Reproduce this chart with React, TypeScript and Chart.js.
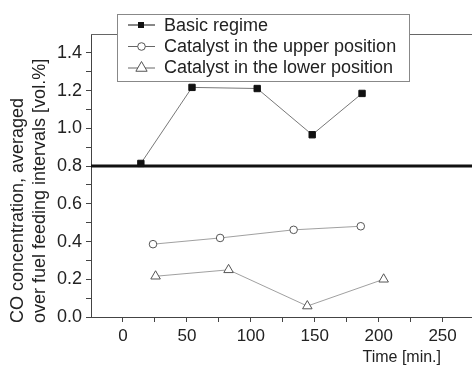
import React, { useEffect, useRef } from 'react';
import { Chart, registerables } from 'chart.js';
Chart.register(...registerables);

const seriesNames = ['Basic regime', 'Catalyst in the upper position', 'Catalyst in the lower position'];
const basicTime = [14, 54, 105, 148, 187];
const basicCO = [0.814, 1.217, 1.211, 0.966, 1.185];
const upperTime = [23.5, 76, 133.5, 186];
const upperCO = [0.386, 0.419, 0.462, 0.481];
const lowerTime = [25.5, 82.6, 144.2, 203.9];
const lowerCO = [0.216, 0.25, 0.058, 0.2];
const referenceLevel = 0.8;
const xTicks = [0, 25, 50, 75, 100, 125, 150, 175, 200, 225, 250];
const xLabelTicks = [0, 50, 100, 150, 200, 250];
const yTicks = [0, 0.1, 0.2, 0.3, 0.4, 0.5, 0.6, 0.7, 0.8, 0.9, 1.0, 1.1, 1.2, 1.3, 1.4];
const yLabelTicks = [0, 0.2, 0.4, 0.6, 0.8, 1.0, 1.2, 1.4];
const xTitle = 'Time [min.]';
const yTitle = ['CO concentration, averaged', 'over fuel feeding intervals [vol.%]'];

const FONT = '"Liberation Sans", Arial, sans-serif';
const TEXT = '#222';

const pts = (xs: number[], ys: number[]) => xs.map((x, i) => ({ x, y: ys[i] }));

const styles = [
  { pointStyle: 'rect', radius: 4.5, fill: '#111', stroke: '#111', line: '#555' },
  { pointStyle: 'circle', radius: 3.8, fill: '#fff', stroke: '#555', line: '#888' },
  { pointStyle: 'triangle', radius: 5.5, fill: '#fff', stroke: '#555', line: '#888' },
];

const decorPlugin = {
  id: 'decor',
  beforeDatasetsDraw(chart: any) {
    const { ctx, chartArea, scales } = chart;
    ctx.save();
    ctx.strokeStyle = '#666';
    ctx.lineWidth = 1;
    ctx.beginPath();
    ctx.moveTo(chartArea.left, chartArea.top + 0.5);
    ctx.lineTo(chartArea.right, chartArea.top + 0.5);
    ctx.stroke();
    const y = scales.y.getPixelForValue(referenceLevel);
    ctx.strokeStyle = '#111';
    ctx.lineWidth = 3;
    ctx.beginPath();
    ctx.moveTo(chartArea.left, y);
    ctx.lineTo(chartArea.right, y);
    ctx.stroke();
    ctx.restore();
  },
  afterDraw(chart: any) {
    const { ctx } = chart;
    ctx.save();
    // legend box
    const bx = 117.5, by = 14.5, bw = 292, bh = 67;
    ctx.fillStyle = '#fff';
    ctx.fillRect(bx, by, bw, bh);
    ctx.strokeStyle = '#888';
    ctx.lineWidth = 1;
    ctx.strokeRect(bx, by, bw, bh);
    ctx.font = `18px ${FONT}`;
    ctx.textBaseline = 'alphabetic';
    ctx.textAlign = 'left';
    seriesNames.forEach((name, i) => {
      const cy = 25 + i * 21.5;
      const st = styles[i];
      ctx.strokeStyle = i === 0 ? '#111' : '#666';
      ctx.lineWidth = 1;
      ctx.beginPath();
      ctx.moveTo(128, cy);
      ctx.lineTo(155, cy);
      ctx.stroke();
      ctx.fillStyle = st.fill;
      ctx.strokeStyle = st.stroke;
      ctx.beginPath();
      if (st.pointStyle === 'rect') {
        ctx.fillRect(141 - 3, cy - 3, 6, 6);
      } else if (st.pointStyle === 'circle') {
        ctx.arc(141.5, cy, 3.8, 0, Math.PI * 2);
        ctx.fill();
        ctx.stroke();
      } else {
        const r = 6.5;
        ctx.moveTo(141.5, cy - r);
        ctx.lineTo(141.5 + r * 0.866, cy + r * 0.5);
        ctx.lineTo(141.5 - r * 0.866, cy + r * 0.5);
        ctx.closePath();
        ctx.fill();
        ctx.stroke();
      }
      ctx.fillStyle = TEXT;
      ctx.fillText(name, 164, 30.7 + i * 21.3);
    });
    // x title
    ctx.font = `16px ${FONT}`;
    ctx.fillStyle = TEXT;
    ctx.textAlign = 'right';
    ctx.textBaseline = 'middle';
    ctx.fillText(xTitle, 441, 358);
    // y title
    ctx.font = `18px ${FONT}`;
    ctx.textAlign = 'left';
    yTitle.forEach((line, i) => {
      ctx.save();
      ctx.translate(18 + i * 22, 323);
      ctx.rotate(-Math.PI / 2);
      ctx.fillText(line, 0, 0);
      ctx.restore();
    });
    ctx.restore();
  },
};

export default function App() {
  const ref = useRef<HTMLCanvasElement | null>(null);
  useEffect(() => {
    if (!ref.current) return;
    const datasets = [pts(basicTime, basicCO), pts(upperTime, upperCO), pts(lowerTime, lowerCO)].map((data, i) => ({
      label: seriesNames[i],
      data,
      showLine: true,
      borderColor: styles[i].line,
      borderWidth: 0.8,
      pointStyle: styles[i].pointStyle,
      pointRadius: styles[i].radius,
      pointBackgroundColor: styles[i].fill,
      pointBorderColor: styles[i].stroke,
      pointBorderWidth: 1,
      fill: false,
    }));
    const chart = new Chart(ref.current, {
      type: 'scatter',
      data: { datasets: datasets as any },
      options: {
        animation: false,
        responsive: false,
        maintainAspectRatio: false,
        layout: { autoPadding: false, padding: { top: 34, left: 0, right: 0, bottom: 0 } },
        plugins: { legend: { display: false }, tooltip: { enabled: false } },
        scales: {
          x: {
            type: 'linear',
            min: -25,
            max: 273,
            afterBuildTicks: (s: any) => { s.ticks = xTicks.map((v) => ({ value: v })); },
            afterFit: (s: any) => { s.height = 50; s.paddingRight = 0; s.paddingLeft = 0; },
            ticks: {
              autoSkip: false,
              maxRotation: 0,
              padding: 4,
              color: TEXT,
              font: { size: 17, family: FONT },
              callback: (v: any) => (xLabelTicks.includes(Number(v)) ? String(v) : ''),
            },
            grid: { drawOnChartArea: false, drawTicks: true, tickLength: 5, tickColor: '#444' },
            border: { color: '#444', width: 1 },
          },
          y: {
            type: 'linear',
            min: 0,
            max: 1.5,
            afterBuildTicks: (s: any) => { s.ticks = yTicks.map((v) => ({ value: v })); },
            afterFit: (s: any) => { s.width = 91; s.paddingTop = 0; s.paddingBottom = 0; },
            ticks: {
              autoSkip: false,
              padding: 4,
              color: TEXT,
              font: { size: 18, family: FONT },
              callback: (v: any) => {
                const n = Number(v);
                return yLabelTicks.some((t) => Math.abs(t - n) < 1e-6) ? n.toFixed(1) : '';
              },
            },
            grid: { drawOnChartArea: false, drawTicks: true, tickLength: 5, tickColor: '#444' },
            border: { color: '#444', width: 1 },
          },
        },
      },
      plugins: [decorPlugin],
    });
    return () => chart.destroy();
  }, []);
  return (
    <div style={{ position: 'fixed', left: 0, top: 0, width: 472, height: 367, background: '#fff' }}>
      <canvas ref={ref} width={472} height={367} style={{ width: 472, height: 367, display: 'block' }} />
    </div>
  );
}
